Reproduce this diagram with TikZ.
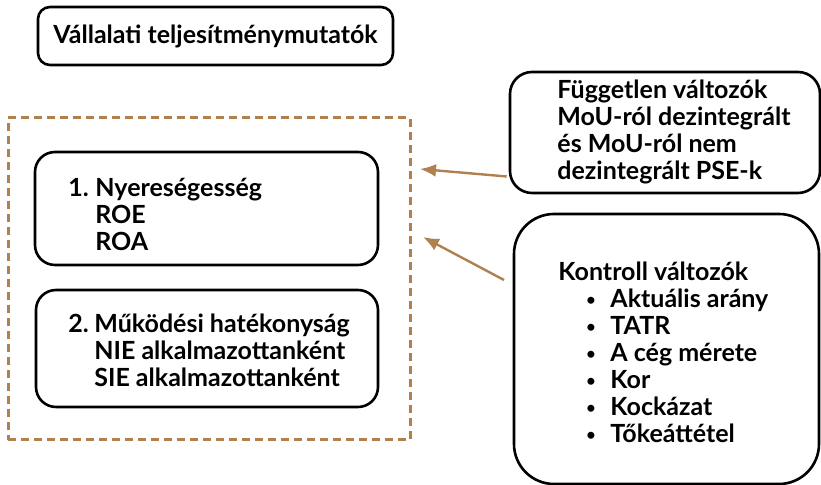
\documentclass[tikz,border=0pt]{standalone}
\usepackage{fontspec}
\setmainfont{Lato}
\usetikzlibrary{positioning,arrows.meta}
\definecolor{barna}{HTML}{B0804F}
\newcommand{\pont}{\makebox[12pt][l]{\raisebox{0.8pt}{\fontsize{8}{8}\selectfont•}}}
\tikzset{
  doboz/.style={draw, line width=1.3pt, inner sep=0pt},
  szoveg/.style={anchor=west, inner sep=0pt, align=left, font=\bfseries\fontsize{12.5}{13.5}\selectfont},
  nyil/.style={barna, line width=1.2pt, -{Latex[length=8pt,width=6.5pt]}},
}
\begin{document}
\begin{tikzpicture}[x=0.5pt,y=-0.5pt]
  \useasboundingbox (0,0) rectangle (821,485);
  % title
  \node[doboz, rounded corners=6pt, minimum width=177.5pt, minimum height=29pt] (cim) at (215.5,36) {};
  \node[szoveg, anchor=center] (cimtxt) at (cim) {Vállalati teljesítménymutatók};
  % dashed frame with the two groups
  \node[draw=barna, line width=1.5pt, dash pattern=on 4pt off 2.5pt, minimum width=201pt, minimum height=161pt, inner sep=0pt] (keret) at (209,279) {};
  \node[doboz, rounded corners=10pt, minimum width=171.5pt, minimum height=56.5pt] (nyereseg) at (206.5,208.5) {};
  \node[szoveg] (nyertxt) at (68,214) {\makebox[13.5pt][l]{1.}Nyereségesség\\\hspace*{13.5pt}ROE\\\hspace*{13.5pt}ROA};
  \node[doboz, rounded corners=10pt, minimum width=171pt, minimum height=58.5pt] (mukodes) at (207,348.5) {};
  \node[szoveg] (muktxt) at (68,350) {\makebox[13pt][l]{2.}Működési hatékonyság\\\hspace*{13pt}NIE alkalmazottanként\\\hspace*{13pt}SIE alkalmazottanként};
  % right boxes
  \node[doboz, rounded corners=11pt, minimum width=155pt, minimum height=60.5pt] (fuggetlen) at (665,132.5) {};
  \node[szoveg] (fugtxt) at (557,132) {Független változók\\MoU-ról dezintegrált\\és MoU-ról nem\\dezintegrált PSE-k};
  \node[doboz, rounded corners=20pt, minimum width=152.5pt, minimum height=135pt] (kontroll) at (666.5,349) {};
  \node[szoveg] (kontxt) at (558,352) {Kontroll változók\\
    \hspace*{14pt}\pont Aktuális arány\\
    \hspace*{14pt}\pont TATR\\
    \hspace*{14pt}\pont A cég mérete\\
    \hspace*{14pt}\pont Kor\\
    \hspace*{14pt}\pont Kockázat\\
    \hspace*{14pt}\pont Tőkeáttétel};
  % arrows
  \coordinate (cel1) at (420,169);
  \coordinate (cel2) at (423,237);
  \coordinate (kontrollvege) at (504,280);
  \draw[nyil] ([xshift=-1pt,yshift=-22pt]fuggetlen.west) -- (cel1);
  \draw[nyil] (kontrollvege) -- (cel2);
\end{tikzpicture}
\end{document}
